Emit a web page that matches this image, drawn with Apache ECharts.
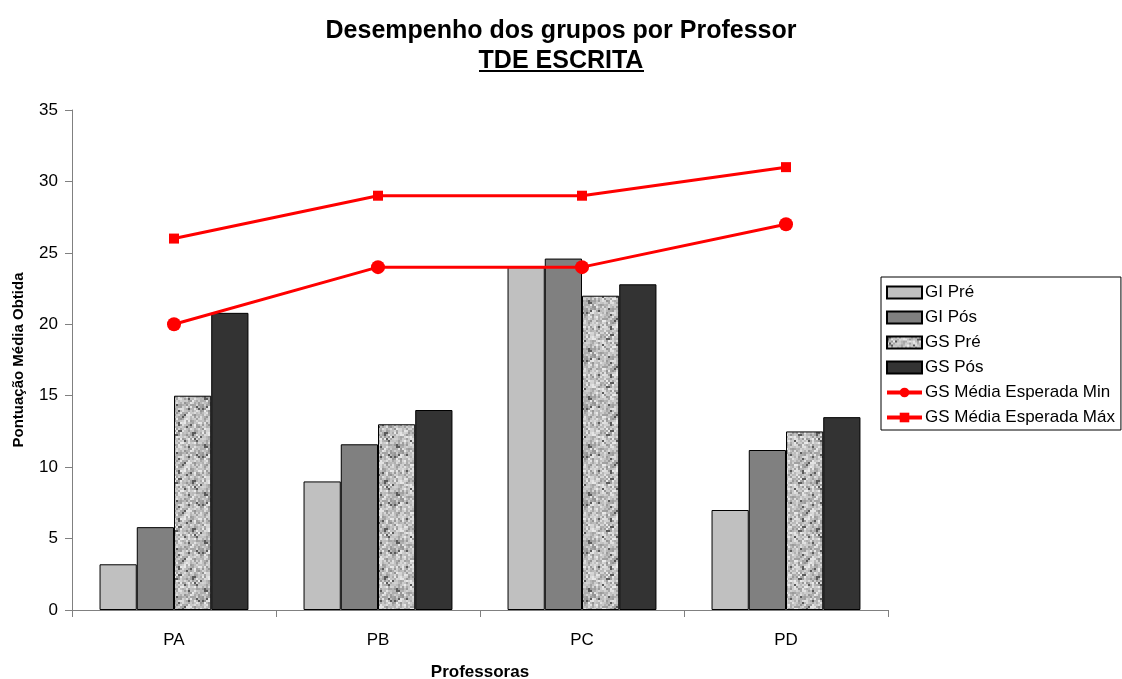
<!DOCTYPE html>
<html>
<head>
<meta charset="utf-8">
<script src="https://cdn.jsdelivr.net/npm/echarts@6/dist/echarts.min.js"></script>
<style>
  html, body { margin: 0; padding: 0; background: #fff; }
  #chart { width: 1122px; height: 679px; }
</style>
</head>
<body>
<div id="chart"></div>
<script>
'use strict';
// dados do gráfico
var professoras = ['PA', 'PB', 'PC', 'PD'];
var giPre = [3.2, 9.0, 24.0, 7.0];
var giPos = [5.8, 11.6, 24.6, 11.2];
var gsPre = [15.0, 13.0, 22.0, 12.5];
var gsPos = [20.8, 14.0, 22.8, 13.5];
var esperadaMin = [20, 24, 24, 27];
var esperadaMax = [26, 29, 29, 31];
var yTicks = [0, 5, 10, 15, 20, 25, 30, 35];

// textura "granito" para GS Pré (ruído determinístico)
function makeGranite() {
    var c = document.createElement('canvas');
    c.width = 48;
    c.height = 48;
    var ctx = c.getContext('2d');
    for (var y = 0; y < 48; y += 2) {
        for (var x = 0; x < 48; x += 2) {
            var h = Math.sin(x * 12.9898 + y * 78.233) * 43758.5453;
            h = h - Math.floor(h);
            var g = Math.round(140 + h * 95);
            if (h < 0.06) g = 90;
            ctx.fillStyle = 'rgb(' + g + ',' + g + ',' + g + ')';
            ctx.fillRect(x, y, 2, 2);
        }
    }
    return c;
}

var chart = echarts.init(document.getElementById('chart'));
var font = 'Liberation Sans, Arial, sans-serif';

function barSerie(name, data, color) {
    return {
        name: name,
        type: 'bar',
        barGap: '0%',
        barCategoryGap: '27%',
        itemStyle: { color: color, borderColor: '#000', borderWidth: 1 },
        data: data
    };
}

var option = {
    animation: false,
    textStyle: { fontFamily: font },
    title: [{
        text: 'Desempenho dos grupos por Professor',
        left: 'center',
        top: 14,
        textStyle: { fontSize: 25, fontWeight: 'bold', color: '#000', fontFamily: font }
    }, {
        text: 'TDE ESCRITA',
        left: 'center',
        top: 44,
        textStyle: { fontSize: 25, fontWeight: 'bold', color: '#000', fontFamily: font }
    }],
    graphic: [{
        type: 'line',
        shape: { x1: 479, y1: 71, x2: 644, y2: 71 },
        style: { stroke: '#000', lineWidth: 2 }
    }],
    legend: {
        orient: 'vertical',
        left: 881,
        top: 277,
        padding: [7, 6, 4, 4],
        itemGap: 8,
        itemWidth: 35,
        itemHeight: 12,
        borderColor: '#000',
        borderWidth: 1,
        textStyle: { fontSize: 17, color: '#000', fontFamily: font, padding: [0, 0, 0, -2] },
        data: [
            { name: 'GI Pré', icon: 'rect' },
            { name: 'GI Pós', icon: 'rect' },
            { name: 'GS Pré', icon: 'rect' },
            { name: 'GS Pós', icon: 'rect' },
            { name: 'GS Média Esperada Min', lineStyle: { width: 4 } },
            { name: 'GS Média Esperada Máx', lineStyle: { width: 4 } }
        ]
    },
    grid: {
        left: 72,
        right: 234,
        top: 110,
        bottom: 69,
        outerBoundsMode: 'none',
        containLabel: false
    },
    xAxis: {
        type: 'category',
        data: professoras,
        name: 'Professoras',
        nameLocation: 'middle',
        nameGap: 54,
        nameTextStyle: { fontSize: 17, fontWeight: 'bold', color: '#000' },
        axisLine: { lineStyle: { color: '#808080', width: 1 } },
        axisTick: { show: true, length: 7, lineStyle: { color: '#808080' } },
        axisLabel: { fontSize: 17, color: '#000', margin: 22 }
    },
    yAxis: {
        type: 'value',
        min: yTicks[0],
        max: yTicks[yTicks.length - 1],
        interval: 5,
        name: 'Pontuação Média Obtida',
        nameLocation: 'middle',
        nameGap: 46,
        nameTextStyle: { fontSize: 15, fontWeight: 'bold', color: '#000' },
        axisLine: { show: true, lineStyle: { color: '#808080', width: 1 } },
        axisTick: { show: true, length: 7, lineStyle: { color: '#808080' } },
        axisLabel: { fontSize: 17, color: '#000', margin: 14 },
        splitLine: { show: false }
    },
    series: [
        barSerie('GI Pré', giPre, '#c0c0c0'),
        barSerie('GI Pós', giPos, '#808080'),
        barSerie('GS Pré', gsPre, { image: makeGranite(), repeat: 'repeat' }),
        barSerie('GS Pós', gsPos, '#333333'),
        {
            name: 'GS Média Esperada Min',
            type: 'line',
            symbol: 'circle',
            symbolSize: 14,
            lineStyle: { color: '#ff0000', width: 3 },
            itemStyle: { color: '#ff0000' },
            data: esperadaMin
        },
        {
            name: 'GS Média Esperada Máx',
            type: 'line',
            symbol: 'rect',
            symbolSize: 10,
            lineStyle: { color: '#ff0000', width: 3 },
            itemStyle: { color: '#ff0000' },
            data: esperadaMax
        }
    ]
};
chart.setOption(option);
</script>
</body>
</html>
